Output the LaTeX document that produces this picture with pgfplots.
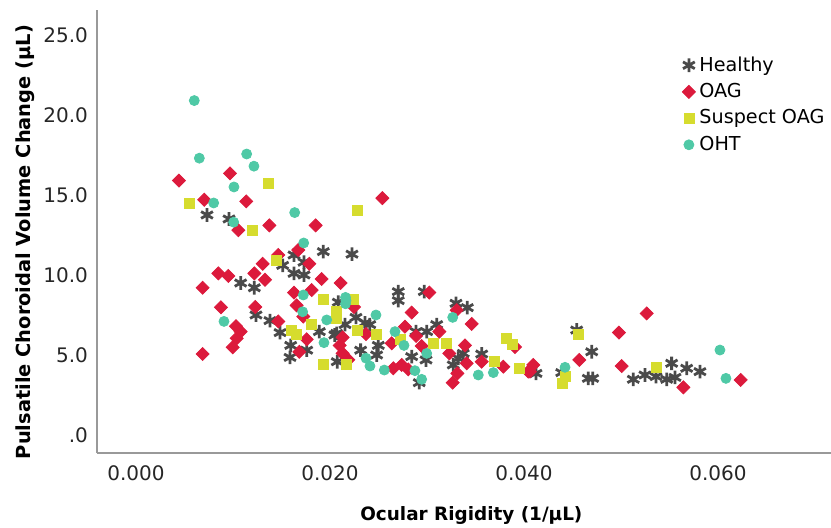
\documentclass[border=0pt]{standalone}
\usepackage{fontspec}
\setmainfont{DejaVu Sans}
\usepackage{pgfplots}
\pgfplotsset{compat=1.18}
\definecolor{healthy}{HTML}{4A4A4A}
\definecolor{oag}{HTML}{DC1A3C}
\definecolor{susp}{HTML}{D6DC2E}
\definecolor{oht}{HTML}{4FC9A6}
\begin{document}
\begin{tikzpicture}
\begin{axis}[
    scale only axis,
    width=367pt, height=221.5pt,
    xmin=-0.00402, xmax=0.07165,
    ymin=-1.125, ymax=26.56,
    axis lines=left,
    axis line style={-, draw=gray!80, line width=0.6pt},
    major tick length=0pt,
    scaled x ticks=false,
    /pgf/number format/assume math mode=true,
    xtick={0,0.02,0.04,0.06},
    xticklabels={0.000,0.020,0.040,0.060},
    ytick={0,5,10,15,20,25},
    yticklabels={.0,5.0,10.0,15.0,20.0,25.0},
    tick label style={font=\fontsize{10}{12}\selectfont, text=black!85},
    xticklabel style={yshift=-3pt},
    yticklabel style={xshift=-1pt},
    xlabel={Ocular Rigidity (1/µL)},
    ylabel={Pulsatile Choroidal Volume Change (µL)},
    label style={font=\bfseries\fontsize{9.2}{11}\selectfont},
    xlabel style={at={(axis description cs:0.51,-0.14)}, anchor=center},
    ylabel style={at={(axis description cs:-0.098,0.476)}, anchor=center, font=\bfseries\fontsize{9.7}{11}\selectfont},
    legend style={draw=none, fill=none, font=\fontsize{9.6}{11}\selectfont,
        at={(axis description cs:0.797,0.905)}, anchor=north west,
        row sep=0.6pt, inner sep=0pt},
    legend cell align=left,
    clip=false,
]
\addplot[only marks, mark=asterisk, mark size=3.4pt, line width=1.4pt, color=healthy]
coordinates {
(0.00732,13.75) (0.00959,13.5) (0.01931,11.46) (0.02227,11.3) (0.01629,11.25)
(0.01512,10.6) (0.01732,10.8) (0.01629,10.1) (0.01732,10.0) (0.01079,9.5)
(0.0122,9.2) (0.02086,8.3) (0.01237,7.5) (0.01381,7.15) (0.01485,6.4)
(0.0189,6.46) (0.01595,5.6) (0.0176,5.3) (0.01588,4.85) (0.02069,6.35)
(0.02704,8.96) (0.02704,8.4) (0.02972,8.96) (0.03299,8.23) (0.03416,7.96)
(0.02268,7.35) (0.0241,6.9) (0.0236,7.0) (0.02155,6.9) (0.0205,6.25)
(0.02887,6.46) (0.02997,6.46) (0.031,6.9) (0.02498,5.6) (0.02316,5.3)
(0.02481,5.0) (0.02075,4.58) (0.02842,4.9) (0.0299,4.69) (0.0292,3.27)
(0.03374,5.1) (0.03323,4.79) (0.03271,4.38) (0.03564,5.06) (0.04543,6.56)
(0.04698,5.2) (0.05522,4.48) (0.05677,4.17) (0.05814,3.96)
(0.05127,3.48) (0.05247,3.75) (0.05361,3.65) (0.05471,3.48) (0.05557,3.6)
(0.04663,3.54) (0.04708,3.54) (0.04389,3.9) (0.04124,3.85)
};
\addlegendentry{Healthy}
\addplot[only marks, mark=square*, mark size=2.3pt, mark options={rotate=45}, color=oag]
coordinates {
(0.00443,15.9) (0.00969,16.35) (0.00704,14.7) (0.01137,14.6) (0.01055,12.8)
(0.01375,13.1) (0.01852,13.1) (0.01673,11.56) (0.0254,14.8) (0.01467,11.25)
(0.01306,10.7) (0.0122,10.1) (0.0133,9.7) (0.01787,10.7) (0.00849,10.1)
(0.00952,9.94) (0.00687,9.2) (0.01914,9.75) (0.0211,9.5) (0.01629,8.9)
(0.01811,9.06) (0.00876,7.98) (0.0123,8.0) (0.01656,8.1) (0.01725,7.4)
(0.01467,7.1) (0.01031,6.8) (0.01079,6.46) (0.01038,6.04) (0.00997,5.48)
(0.00687,5.06) (0.0176,5.98) (0.01684,5.2) (0.0213,6.1) (0.0210,5.6)
(0.0213,5.1) (0.02247,8.0) (0.03024,8.9) (0.02842,7.65) (0.03306,7.8)
(0.03461,6.94) (0.02371,6.31) (0.02773,6.77) (0.02887,6.19) (0.03127,6.46)
(0.02636,5.73) (0.02945,5.56) (0.02189,4.7) (0.02653,4.17) (0.02739,4.38)
(0.02807,4.1) (0.0323,5.1) (0.03392,5.6) (0.03409,4.48) (0.03313,3.85)
(0.03265,3.27) (0.03564,4.58) (0.03787,4.27) (0.03907,5.5) (0.04044,3.96)
(0.05265,7.6) (0.04979,6.4) (0.0457,4.69) (0.05007,4.31) (0.06234,3.44)
(0.05643,2.98) (0.04096,4.38) (0.04062,3.96)
};
\addlegendentry{OAG}
\addplot[only marks, mark=square*, mark size=2.5pt, color=susp]
coordinates {
(0.01364,15.7) (0.0055,14.5) (0.01203,12.8) (0.02285,14.04) (0.0145,10.9)
(0.01931,8.5) (0.01811,6.94) (0.02062,7.7) (0.02069,7.3) (0.01605,6.56)
(0.0165,6.3) (0.01931,4.44) (0.02165,4.4) (0.0224,8.5) (0.02282,6.56)
(0.02481,6.31) (0.02722,5.98) (0.03065,5.73) (0.03203,5.73) (0.03691,4.58)
(0.03814,6.04) (0.03883,5.69) (0.03952,4.17) (0.0456,6.31) (0.05361,4.23)
(0.04399,3.23) (0.04423,3.65)
};
\addlegendentry{Suspect OAG}
\addplot[only marks, mark=*, mark size=2.5pt, color=oht]
coordinates {
(0.00601,20.9) (0.00653,17.3) (0.01141,17.56) (0.01216,16.8) (0.0101,15.5)
(0.00801,14.5) (0.01007,13.3) (0.01636,13.9) (0.01729,12.0) (0.01725,8.75)
(0.02165,8.4) (0.01718,7.7) (0.00907,7.1) (0.01966,7.19) (0.01938,5.77)
(0.0216,8.6) (0.0216,8.2) (0.03265,7.35) (0.02474,7.5) (0.0267,6.46)
(0.02763,5.6) (0.02371,4.8) (0.02412,4.31) (0.0256,4.06) (0.02876,4.02)
(0.02997,5.1) (0.02945,3.48) (0.03529,3.75) (0.03684,3.9) (0.0602,5.31)
(0.06082,3.54) (0.04423,4.23)
};
\addlegendentry{OHT}
\end{axis}
\pgfresetboundingbox
\path ([xshift=-48.5pt,yshift=-37pt]current axis.south west) rectangle ([yshift=5pt]current axis.north east);
\end{tikzpicture}
\end{document}
